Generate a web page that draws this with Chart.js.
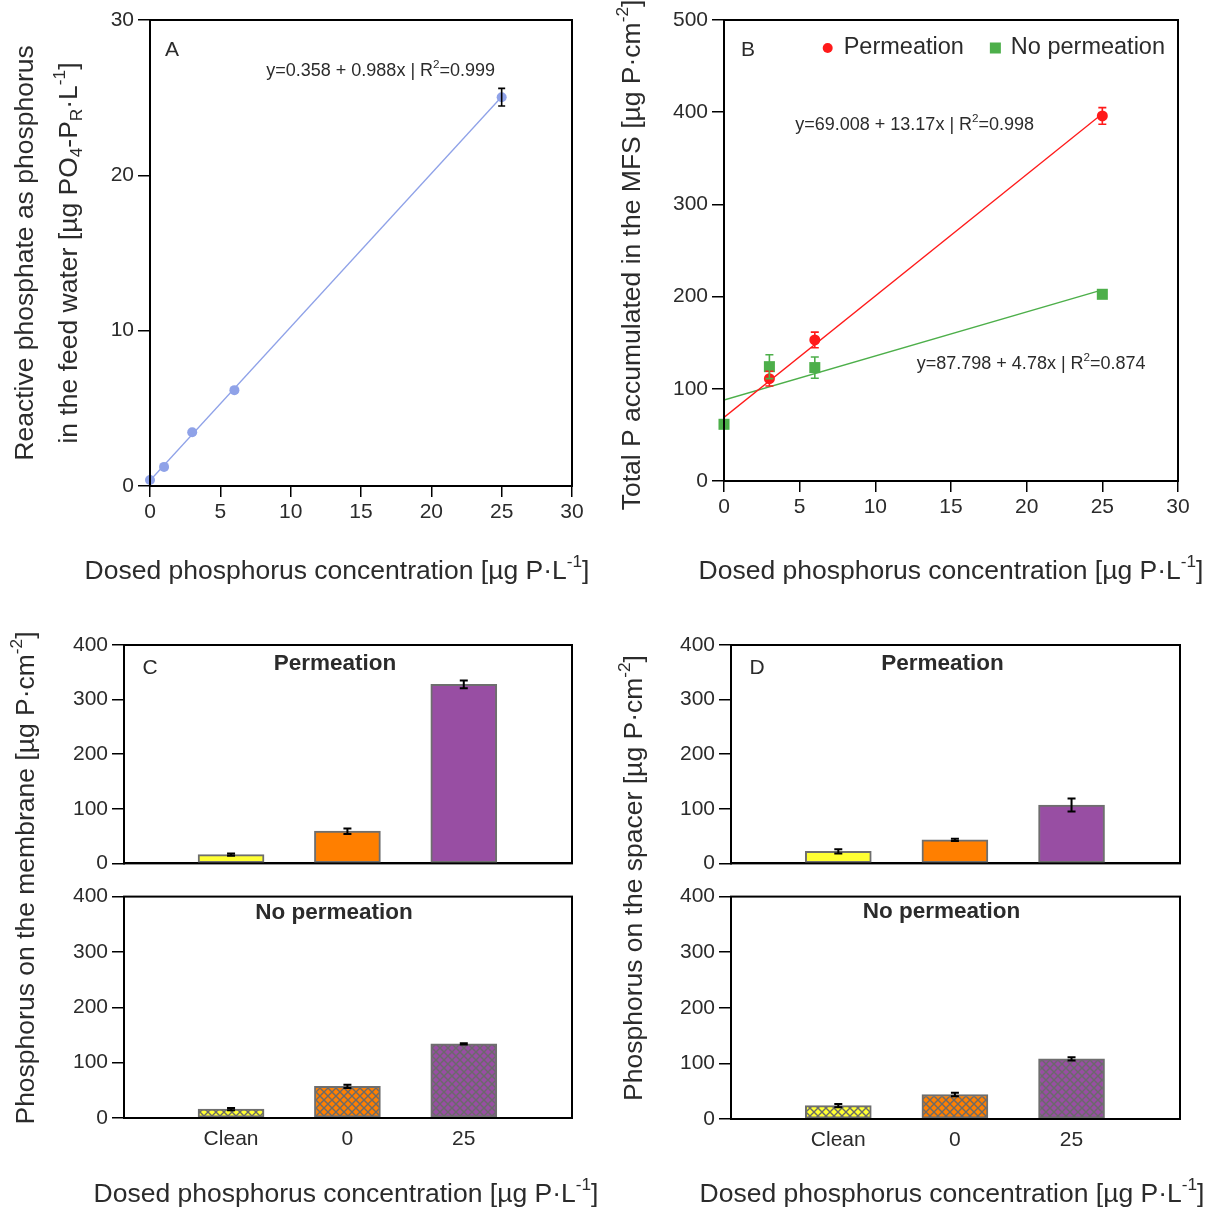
<!DOCTYPE html>
<html><head><meta charset="utf-8">
<script src="https://cdn.jsdelivr.net/npm/chart.js@4.4.1/dist/chart.umd.min.js"></script>
<style>
html,body{margin:0;padding:0;background:#fff;}
#wrap{position:relative;width:1213px;height:1211px;overflow:hidden;background:#fff}
canvas{position:absolute;}
</style></head><body><div id="wrap">
<canvas id="cA" width="606" height="600" style="left:0;top:0"></canvas>
<canvas id="cB" width="607" height="600" style="left:606px;top:0"></canvas>
<canvas id="cC1" width="606" height="260" style="left:0;top:620px"></canvas>
<canvas id="cC2" width="606" height="331" style="left:0;top:880px"></canvas>
<canvas id="cD1" width="607" height="260" style="left:606px;top:620px"></canvas>
<canvas id="cD2" width="607" height="331" style="left:606px;top:880px"></canvas>
<canvas id="ov" width="1213" height="1211" style="left:0;top:0;pointer-events:none"></canvas>
</div>
<script>
// ---------------- DATA ----------------
const dosedA = [0, 1, 3, 6, 25];
const reactiveA = [0.39, 1.23, 3.46, 6.17, 25.03];
const reactiveAErr = [0, 0, 0, 0, 0.57];
const fitRangeA = [0, 25];
const fitA = [0.358, 25.058];

const dosedPerm = [3, 6, 25];
const totalPerm = [111, 153, 396];
const totalPermErr = [8, 8.5, 9];
const dosedNoPerm = [0, 3, 6, 25];
const totalNoPerm = [61.5, 124, 123, 202.5];
const totalNoPermErr = [0, 13, 11.5, 0];
const fitRangeB = [0, 25];
const fitPerm = [69.0, 398.3];
const fitNoPerm = [87.8, 207.3];

const barCategories = ['Clean', '0', '25'];
const membranePerm = [16, 59, 328];
const membranePermErr = [2, 5, 7];
const membraneNoPerm = [16, 57, 134];
const membraneNoPermErr = [2, 3, 1];
const spacerPerm = [22, 43, 107];
const spacerPermErr = [4, 2, 12];
const spacerNoPerm = [24, 44, 108];
const spacerNoPermErr = [3, 3, 3];

const ticksA_x = [0, 5, 10, 15, 20, 25, 30];
const ticksA_y = [0, 10, 20, 30];
const ticksB_y = [0, 100, 200, 300, 400, 500];
const ticksBar_y = [0, 100, 200, 300, 400];

// ---------------- STYLE ----------------
const FONT = "'Liberation Sans', Arial, Helvetica, sans-serif";
const TXT = '#2b2b2b';
const TICK_SIZE = 21;
const TITLE_SIZE = 26.5;
const BAR_COLORS = ['#ffff33', '#ff7f00', '#984ea3'];
const BAR_BORDER = '#6e6e6e';
const BLUE = '#8fa2e8';
const RED = '#ff1a1a';
const GREEN = '#4daf4a';

Chart.defaults.font.family = FONT;
Chart.defaults.color = TXT;
Chart.defaults.animation = false;

function drawRich(ctx, segs, x, y, size, bold, align, rotate, color) {
  ctx.save();
  ctx.translate(x, y);
  if (rotate) ctx.rotate(-Math.PI / 2);
  const f = s => (bold ? 'bold ' : '') + s + 'px ' + FONT;
  let w = 0;
  const ws = segs.map(([t, k]) => { ctx.font = f(k ? size * 0.65 : size); const m = ctx.measureText(t).width; w += m; return m; });
  let cx = align === 'left' ? 0 : align === 'right' ? -w : -w / 2;
  ctx.fillStyle = color || TXT;
  ctx.textBaseline = 'middle';
  ctx.textAlign = 'left';
  segs.forEach(([t, k], i) => {
    ctx.font = f(k ? size * 0.65 : size);
    const dy = k === 'sup' ? -size * 0.36 : k === 'sub' ? size * 0.26 : 0;
    ctx.fillText(t, cx, dy);
    cx += ws[i];
  });
  ctx.restore();
  return w;
}

function hatch(color) {
  const n = 8;
  const c = document.createElement('canvas'); c.width = n; c.height = n;
  const g = c.getContext('2d');
  g.fillStyle = color; g.fillRect(0, 0, n, n);
  g.strokeStyle = '#6a6a6a'; g.lineWidth = 1.4;
  g.beginPath();
  g.moveTo(-1, -1); g.lineTo(n + 1, n + 1);
  g.moveTo(n + 1, -1); g.lineTo(-1, n + 1);
  g.stroke();
  return g.createPattern(c, 'repeat');
}

// ---------------- PLUGINS ----------------
const errorBars = {
  id: 'errorBars',
  afterDatasetsDraw(chart) {
    const ctx = chart.ctx;
    chart.data.datasets.forEach((ds, di) => {
      if (!ds.errors) return;
      const meta = chart.getDatasetMeta(di);
      const ys = chart.scales[meta.yAxisID];
      meta.data.forEach((el, i) => {
        const e = ds.errors[i]; if (!e) return;
        const v = ds.data[i]; const val = typeof v === 'object' ? v.y : v;
        const x = el.x;
        const y1 = ys.getPixelForValue(val + e), y2 = ys.getPixelForValue(val - e);
        const cw = ds.capWidth || 4;
        ctx.save();
        ctx.strokeStyle = ds.errorColor || '#000';
        ctx.lineWidth = ds.errorWidth || 1.6;
        ctx.beginPath();
        ctx.moveTo(x, y1); ctx.lineTo(x, y2);
        ctx.moveTo(x - cw, y1); ctx.lineTo(x + cw, y1);
        ctx.moveTo(x - cw, y2); ctx.lineTo(x + cw, y2);
        ctx.stroke();
        ctx.restore();
      });
    });
  }
};

const frame = {
  id: 'frame',
  afterDraw(chart) {
    const a = chart.chartArea, ctx = chart.ctx;
    ctx.save();
    ctx.strokeStyle = '#000'; ctx.lineWidth = 2;
    ctx.strokeRect(a.left, a.top, a.right - a.left, a.bottom - a.top);
    ctx.restore();
  }
};

const panelText = {
  id: 'panelText',
  afterDraw(chart, args, opts) {
    const items = (opts && opts.items) || [];
    const ctx = chart.ctx, a = chart.chartArea;
    items.forEach(it => {
      let x, y;
      if (it.data) { x = chart.scales.x.getPixelForValue(it.x); y = chart.scales.y.getPixelForValue(it.y); }
      else if (it.center) { x = (a.left + a.right) / 2 + it.x; y = a.top + it.y; }
      else { x = a.left + it.x; y = a.top + it.y; }
      drawRich(ctx, it.segs, x, y, it.size, it.bold, it.align || 'center', false, it.color);
    });
  }
};

const legendInside = {
  id: 'legendInside',
  afterDraw(chart, args, opts) {
    if (!opts || !opts.display) return;
    const ctx = chart.ctx, a = chart.chartArea;
    const items = chart.data.datasets.filter(d => d.legendLabel);
    ctx.save();
    ctx.font = opts.size + 'px ' + FONT;
    const mark = 21, gap = 26;
    let total = 0;
    items.forEach((d, i) => { total += mark + ctx.measureText(d.legendLabel).width + (i ? gap : 0); });
    let x = a.right - opts.right - total;
    const y = a.top + opts.top;
    items.forEach((d, i) => {
      if (i) x += gap;
      ctx.fillStyle = d.backgroundColor;
      if (d.pointStyle === 'rect') { ctx.fillRect(x, y - 5.5, 11, 11); }
      else { ctx.beginPath(); ctx.arc(x + 5, y, 5, 0, Math.PI * 2); ctx.fill(); }
      x += mark;
      ctx.fillStyle = TXT; ctx.textBaseline = 'middle'; ctx.textAlign = 'left';
      ctx.fillText(d.legendLabel, x, y);
      x += ctx.measureText(d.legendLabel).width;
    });
    ctx.restore();
  }
};

Chart.register(errorBars, frame, panelText, legendInside);

// ---------------- HELPERS ----------------
function axisY(min, max, ticks, width) {
  return {
    type: 'linear', min, max,
    afterBuildTicks: s => { s.ticks = ticks.map(v => ({ value: v })); },
    afterFit: s => { s.width = width; },
    grid: { display: true, drawOnChartArea: false, drawTicks: true, tickLength: 12, color: '#000', lineWidth: 1.5 },
    border: { display: true, color: '#000', width: 2 },
    ticks: { font: { size: TICK_SIZE }, color: TXT, padding: 4 }
  };
}
function axisXLinear(min, max, ticks, height) {
  return {
    type: 'linear', min, max,
    afterBuildTicks: s => { s.ticks = ticks.map(v => ({ value: v })); },
    afterFit: s => { s.height = height; },
    grid: { display: true, drawOnChartArea: false, drawTicks: true, tickLength: 11, color: '#000', lineWidth: 1.5 },
    border: { display: true, color: '#000', width: 2 },
    ticks: { font: { size: TICK_SIZE }, color: TXT, padding: 3, maxRotation: 0 }
  };
}
function axisXCat(height, showLabels) {
  return {
    type: 'linear', min: 0.08, max: 3.93, offset: false,
    afterBuildTicks: s => { s.ticks = barCategories.map((c, i) => ({ value: i + 1 })); },
    afterFit: s => { s.height = height; },
    grid: { display: false },
    border: { display: true, color: '#000', width: 2 },
    ticks: { display: showLabels, font: { size: TICK_SIZE }, color: TXT, padding: 1,
      callback: v => barCategories[Math.round(v) - 1] }
  };
}
const xy = (xs, ys) => xs.map((x, i) => ({ x, y: ys[i] }));

// ---------------- PANEL A ----------------
new Chart(document.getElementById('cA'), {
  type: 'scatter',
  data: { datasets: [
    { data: xy(dosedA, reactiveA), errors: reactiveAErr, backgroundColor: BLUE, borderColor: BLUE,
      pointRadius: 5, pointBorderWidth: 0, order: 1, clip: false, capWidth: 3.5 },
    { data: xy(fitRangeA, fitA), showLine: true, borderColor: BLUE, borderWidth: 1.3, pointRadius: 0, order: 2 }
  ]},
  options: {
    responsive: false, layout: { padding: { top: 20, right: 34, left: 0, bottom: 0 } },
    scales: { x: axisXLinear(0, 30, ticksA_x, 114), y: axisY(0, 30, ticksA_y, 150) },
    plugins: { legend: { display: false }, tooltip: { enabled: false },
      panelText: { items: [
        { segs: [['A']], x: 22, y: 30, size: 21 },
        { segs: [['y=0.358 + 0.988x | R'], ['2', 'sup'], ['=0.999']], data: true, x: 16.4, y: 26.7, size: 18 }
      ] } }
  }
});

// ---------------- PANEL B ----------------
new Chart(document.getElementById('cB'), {
  type: 'scatter',
  data: { datasets: [
    { data: xy(dosedPerm, totalPerm), errors: totalPermErr, errorColor: RED, legendLabel: 'Permeation',
      backgroundColor: RED, borderColor: RED, pointStyle: 'circle', pointRadius: 5.5, pointBorderWidth: 0, order: 1, clip: false },
    { data: xy(dosedNoPerm, totalNoPerm), errors: totalNoPermErr, errorColor: GREEN, legendLabel: 'No permeation',
      backgroundColor: GREEN, borderColor: GREEN, pointStyle: 'rect', pointRadius: 7.8, pointBorderWidth: 0, order: 1, clip: false },
    { data: xy(fitRangeB, fitPerm), showLine: true, borderColor: RED, borderWidth: 1.3, pointRadius: 0, order: 2 },
    { data: xy(fitRangeB, fitNoPerm), showLine: true, borderColor: GREEN, borderWidth: 1.5, pointRadius: 0, order: 2 }
  ]},
  options: {
    responsive: false, layout: { padding: { top: 20, right: 35, left: 0, bottom: 0 } },
    scales: { x: axisXLinear(0, 30, ticksA_x, 119), y: axisY(0, 500, ticksB_y, 118) },
    plugins: { legend: { display: false }, tooltip: { enabled: false },
      legendInside: { display: true, size: 23.5, right: 13, top: 28 },
      panelText: { items: [
        { segs: [['B']], x: 24, y: 30, size: 21 },
        { segs: [['y=69.008 + 13.17x | R'], ['2', 'sup'], ['=0.998']], data: true, x: 12.6, y: 386, size: 18 },
        { segs: [['y=87.798 + 4.78x | R'], ['2', 'sup'], ['=0.874']], data: true, x: 20.3, y: 127, size: 18 }
      ] } }
  }
});

// ---------------- BAR PANELS ----------------
function barChart(id, values, errs, hatched, padTop, padRight, yW, xH, showX, texts) {
  const bg = hatched ? BAR_COLORS.map(hatch) : BAR_COLORS;
  return new Chart(document.getElementById(id), {
    type: 'bar',
    data: { datasets: [{
      data: values.map((v, i) => ({ x: i + 1, y: v })), errors: errs, capWidth: 4, errorWidth: 2,
      backgroundColor: bg, borderColor: BAR_BORDER, borderWidth: 2, borderSkipped: false, barThickness: 66
    }]},
    options: {
      responsive: false, layout: { padding: { top: padTop, right: padRight, left: 0, bottom: 0 } },
      scales: { x: axisXCat(xH, showX), y: axisY(0, 400, ticksBar_y, yW) },
      plugins: { legend: { display: false }, tooltip: { enabled: false }, panelText: { items: texts } }
    }
  });
}
barChart('cC1', membranePerm, membranePermErr, false, 25, 34, 124, 13, false, [
  { segs: [['C']], x: 26, y: 23, size: 21 },
  { segs: [['Permeation']], center: true, x: -13, y: 19, size: 22.5, bold: true }
]);
barChart('cC2', membraneNoPerm, membraneNoPermErr, true, 15, 34, 124, 93, true, [
  { segs: [['No permeation']], center: true, x: -14, y: 16, size: 22.5, bold: true }
]);
barChart('cD1', spacerPerm, spacerPermErr, false, 25, 33, 125, 13, false, [
  { segs: [['D']], x: 26, y: 23, size: 21 },
  { segs: [['Permeation']], center: true, x: -13, y: 19, size: 22.5, bold: true }
]);
barChart('cD2', spacerNoPerm, spacerNoPermErr, true, 16, 33, 125, 92, true, [
  { segs: [['No permeation']], center: true, x: -14, y: 15, size: 22.5, bold: true }
]);

// ---------------- AXIS TITLES (overlay) ----------------
const ov = document.getElementById('ov').getContext('2d');
const xTitle = [['Dosed phosphorus concentration [\u00b5g P\u00b7L'], ['-1', 'sup'], [']']];
drawRich(ov, xTitle, 337, 572, TITLE_SIZE, false, 'center', false);
drawRich(ov, xTitle, 951, 572, TITLE_SIZE, false, 'center', false);
drawRich(ov, xTitle, 346, 1195, TITLE_SIZE, false, 'center', false);
drawRich(ov, xTitle, 952, 1195, TITLE_SIZE, false, 'center', false);
drawRich(ov, [['Reactive phosphate as phosphorus']], 26, 253, TITLE_SIZE, false, 'center', true);
drawRich(ov, [['in the feed water [\u00b5g PO'], ['4', 'sub'], ['-P'], ['R', 'sub'], ['\u00b7L'], ['-1', 'sup'], [']']], 70, 253, TITLE_SIZE, false, 'center', true);
drawRich(ov, [['Total P accumulated in the MFS [\u00b5g P\u00b7cm'], ['-2', 'sup'], [']']], 633, 255, TITLE_SIZE, false, 'center', true);
drawRich(ov, [['Phosphorus on the membrane [\u00b5g P\u00b7cm'], ['-2', 'sup'], [']']], 27, 878, TITLE_SIZE, false, 'center', true);
drawRich(ov, [['Phosphorus on the spacer [\u00b5g P\u00b7cm'], ['-2', 'sup'], [']']], 635, 878, TITLE_SIZE, false, 'center', true);
</script></body></html>
